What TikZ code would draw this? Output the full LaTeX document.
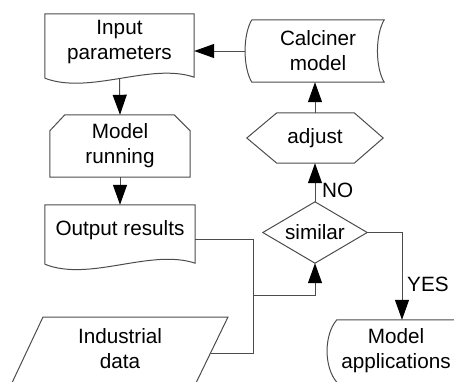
\documentclass[tikz,border=0pt]{standalone}
\usepackage{fontspec}
\setmainfont{Liberation Sans}
\usetikzlibrary{arrows.meta}
\begin{document}
\begin{tikzpicture}[x=1pt,y=-1pt,
  every node/.style={font=\fontsize{20.7}{25}\selectfont, text=black, align=center, inner sep=0pt},
  box/.style={draw=none},
  outline/.style={draw=black!70, line width=1pt},
  link/.style={draw=black!70, line width=1pt},
  flow/.style={link, -{Triangle[length=20pt,width=14pt,color=black]}},
  tag/.style={anchor=west}]
\clip (0,0) rectangle (454,381);

% document: input parameters
\node[box, minimum width=149pt, minimum height=56pt] (inp) at (119.5,42) {Input\\parameters};
\draw[outline] ([yshift=-8pt]inp.south west) -- (inp.north west) -- (inp.north east)
  -- ([yshift=-7pt]inp.south east)
  .. controls +(-44,-15) and +(45,17) .. ([yshift=-8pt]inp.south west);

% process with chamfered top: model running
\node[box, minimum width=140pt, minimum height=62pt] (run) at (120,146) {Model\\running};
\draw[outline] ([yshift=-16pt]run.north west) -- ([xshift=15pt]run.north west)
  -- ([xshift=-16pt]run.north east) -- ([yshift=-16pt]run.north east)
  -- (run.south east) -- (run.south west) -- cycle;

% document: output results
\node[box, minimum width=150pt, minimum height=50pt] (outp) at (120,230) {Output results};
\draw[outline] ([yshift=-9pt]outp.south west) -- (outp.north west) -- (outp.north east)
  -- ([yshift=-8pt]outp.south east)
  .. controls +(-45,-15) and +(45,18) .. ([yshift=-9pt]outp.south west);

% data: industrial data
\node (ind) at (120,349) {Industrial\\data};
\draw[outline] (43,317) -- (228,317) -- (194.5,386) -- (10.5,386) -- cycle;
\coordinate (indR) at (210.6,353);

% decision: similar
\node[box, minimum width=104pt, minimum height=61pt] (sim) at (315,232.5) {similar};
\draw[outline] (sim.north) -- (sim.east) -- (sim.south) -- (sim.west) -- cycle;

% preparation: adjust
\node[box, minimum width=136pt, minimum height=50pt] (adj) at (315,138) {adjust};
\draw[outline] (adj.west) -- ([xshift=30pt]adj.north west) -- ([xshift=-29pt]adj.north east)
  -- (adj.east) -- ([xshift=-29pt]adj.south east) -- ([xshift=30pt]adj.south west) -- cycle;

% stored data: calciner model
\node[box, minimum width=132pt, minimum height=62pt] (cal) at (318,51) {Calciner\\model};
\draw[outline] (cal.north west) -- (cal.north east)
  .. controls +(-9,15) and +(-9,-15) .. (cal.south east)
  -- (cal.south west)
  .. controls +(-9,-15) and +(-9,15) .. (cal.north west);

% stored data: model applications
\node[box, minimum width=118pt, minimum height=62pt] (app) at (396,351) {Model\\applications};
\draw[outline] ([xshift=80pt]app.north east) -- (app.north west)
  .. controls +(-13,15) and +(-13,-15) .. (app.south west);

% connectors
\draw[flow] ([yshift=-8pt]inp.south) -- (run.north);
\draw[flow] (run.south) -- (outp.north);
\coordinate (j) at (253,295);
\draw[link] ([yshift=-9pt]outp.east) -| (j);
\draw[link] (indR) -| (j);
\draw[flow] (j) -| (sim.south);
\draw[flow] (sim.north) -- (adj.south);
\draw[flow] (adj.north) -- (adj.north |- cal.south);
\draw[flow] ([xshift=-7pt]cal.west) -- ([yshift=-9pt]inp.east);
\draw[flow] (sim.east) -| ([xshift=6pt]app.north);

% branch labels
\node[tag] (no) at (322,190) {NO};
\node[tag] (yes) at (407,284) {YES};
\end{tikzpicture}
\end{document}
